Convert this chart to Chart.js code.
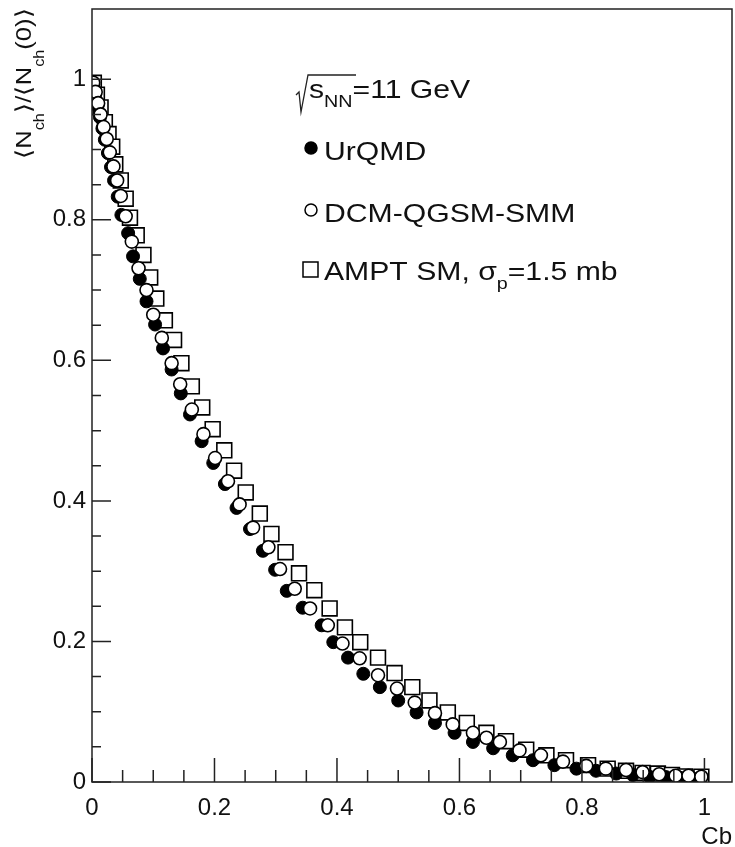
<!DOCTYPE html>
<html>
<head>
<meta charset="utf-8">
<script src="https://cdn.jsdelivr.net/npm/chart.js@4.4.1/dist/chart.umd.min.js"></script>
<style>
  body { margin: 0; background: #fff; }
  canvas { display: block; }
</style>
</head>
<body>
<canvas id="chart" width="735" height="847"></canvas>
<script>
// --- Data ---
const cbUrqmd = [0.002, 0.005, 0.009, 0.013, 0.017, 0.021, 0.026, 0.031, 0.036, 0.042, 0.048, 0.059, 0.067, 0.078, 0.089,
    0.103, 0.116, 0.130, 0.145, 0.160, 0.179, 0.198, 0.217, 0.236, 0.258, 0.279, 0.299, 0.318, 0.344, 0.375,
    0.394, 0.418, 0.443, 0.470, 0.500, 0.530, 0.560, 0.592, 0.622, 0.655, 0.687, 0.720, 0.755, 0.791, 0.823,
    0.856, 0.883, 0.910, 0.937, 0.960, 0.981];
const nUrqmd = [0.992, 0.978, 0.962, 0.946, 0.930, 0.914, 0.895, 0.875, 0.856, 0.833, 0.807, 0.781, 0.748, 0.716, 0.684,
    0.651, 0.617, 0.587, 0.553, 0.523, 0.485, 0.454, 0.424, 0.390, 0.360, 0.329, 0.302, 0.272, 0.248, 0.223,
    0.199, 0.177, 0.154, 0.135, 0.116, 0.099, 0.084, 0.070, 0.057, 0.048, 0.038, 0.031, 0.024, 0.019, 0.016,
    0.012, 0.010, 0.0075, 0.007, 0.006, 0.005];

const cbDcm = [0.002, 0.006, 0.010, 0.014, 0.019, 0.024, 0.029, 0.035, 0.041, 0.047, 0.055, 0.065, 0.076, 0.089, 0.100,
    0.114, 0.130, 0.144, 0.163, 0.182, 0.201, 0.222, 0.241, 0.263, 0.288, 0.307, 0.331, 0.356, 0.385, 0.409,
    0.437, 0.467, 0.498, 0.527, 0.560, 0.589, 0.622, 0.644, 0.666, 0.698, 0.733, 0.769, 0.807, 0.839, 0.872,
    0.899, 0.926, 0.953, 0.974, 0.995];
const nDcm = [0.995, 0.982, 0.966, 0.950, 0.932, 0.915, 0.896, 0.876, 0.856, 0.834, 0.805, 0.769, 0.731, 0.700, 0.665,
    0.632, 0.596, 0.566, 0.530, 0.495, 0.461, 0.428, 0.395, 0.362, 0.334, 0.303, 0.275, 0.247, 0.223, 0.197,
    0.176, 0.152, 0.133, 0.113, 0.098, 0.082, 0.070, 0.063, 0.057, 0.045, 0.038, 0.029, 0.023, 0.019, 0.017,
    0.014, 0.011, 0.009, 0.009, 0.0075];

const cbAmpt = [0.003, 0.008, 0.014, 0.021, 0.027, 0.033, 0.038, 0.047, 0.055, 0.062, 0.073, 0.084, 0.095, 0.105, 0.119,
    0.134, 0.146, 0.163, 0.180, 0.197, 0.216, 0.232, 0.251, 0.274, 0.293, 0.316, 0.338, 0.363, 0.388, 0.413,
    0.438, 0.467, 0.494, 0.523, 0.551, 0.581, 0.612, 0.644, 0.676, 0.709, 0.742, 0.774, 0.810, 0.842, 0.872,
    0.899, 0.924, 0.947, 0.968, 0.995];
const nAmpt = [0.995, 0.978, 0.960, 0.939, 0.922, 0.904, 0.879, 0.856, 0.830, 0.803, 0.778, 0.750, 0.718, 0.688, 0.657,
    0.629, 0.596, 0.563, 0.533, 0.502, 0.472, 0.443, 0.412, 0.382, 0.353, 0.327, 0.297, 0.273, 0.247, 0.220,
    0.199, 0.177, 0.155, 0.135, 0.116, 0.099, 0.084, 0.070, 0.058, 0.046, 0.038, 0.031, 0.024, 0.019, 0.016,
    0.013, 0.012, 0.010, 0.008, 0.0075];

const xTicks = [0, 0.2, 0.4, 0.6, 0.8, 1];
const yTicks = [0, 0.2, 0.4, 0.6, 0.8, 1];
const minorStep = 0.05;

const FONT = "'Liberation Sans', Arial, Helvetica, sans-serif";
const STRETCH = 1.16; // ROOT's Helvetica renders wider than Liberation Sans

const toPoints = (xs, ys) => xs.map((x, i) => ({ x, y: ys[i] }));

// draws a run of [text, isSub] pieces starting at (x, y), stretched horizontally
const drawRuns = (ctx, runs, x, y, mainSize, subSize, subDrop) => {
    ctx.save();
    ctx.translate(x, y);
    ctx.scale(STRETCH, 1);
    let cx = 0;
    runs.forEach(([t, sub]) => {
        ctx.font = `${sub ? subSize : mainSize}px ${FONT}`;
        ctx.fillText(t, cx, sub ? subDrop : 0);
        cx += ctx.measureText(t).width;
    });
    ctx.restore();
    return cx * STRETCH;
};

// --- ROOT-like frame with inside ticks, legend text and axis titles ---
const rootFrame = {
    id: 'rootFrame',
    afterDraw(chart) {
        const { ctx, chartArea: a, scales: { x, y } } = chart;
        ctx.save();
        ctx.strokeStyle = '#222';
        ctx.lineWidth = 1.5;
        ctx.strokeRect(a.left, a.top, a.right - a.left, a.bottom - a.top);

        ctx.beginPath();
        for (let v = 0; v <= 1.0001; v += minorStep) {
            const major = Math.abs(v / 0.2 - Math.round(v / 0.2)) < 1e-6;
            const px = x.getPixelForValue(v);
            ctx.moveTo(px, a.bottom);
            ctx.lineTo(px, a.bottom - (major ? 24 : 12));
            const py = y.getPixelForValue(v);
            ctx.moveTo(a.left, py);
            ctx.lineTo(a.left + (major ? 19 : 9), py);
        }
        ctx.stroke();

        // x title
        ctx.fillStyle = '#111';
        ctx.font = `24px ${FONT}`;
        ctx.textAlign = 'right';
        ctx.textBaseline = 'alphabetic';
        ctx.fillText('Cb', a.right, 844);
        ctx.textAlign = 'left';

        // y title, rotated, aligned to the top
        const yTitle = [['\u27E8N', false], ['ch', true], ['\u27E9/\u27E8N', false], ['ch', true], ['(0)\u27E9', false]];
        let len = 0;
        yTitle.forEach(([t, sub]) => { ctx.font = `${sub ? 14 : 22}px ${FONT}`; len += ctx.measureText(t).width; });
        ctx.save();
        ctx.translate(31, a.top - 1);
        ctx.rotate(-Math.PI / 2);
        drawRuns(ctx, yTitle, -len * STRETCH, 0, 22, 14, 13);
        ctx.restore();

        // legend
        ctx.lineWidth = 1.3;
        ctx.beginPath();
        ctx.moveTo(296, 95); ctx.lineTo(299, 92); ctx.lineTo(301, 112); ctx.lineTo(308, 75); ctx.lineTo(356, 75);
        ctx.stroke();
        drawRuns(ctx, [['s', false], ['NN', true], ['=11 GeV', false]], 309, 98, 26, 17, 9);

        const legendRows = [
            { ds: 0, runs: [['UrQMD', false]], y: 160 },
            { ds: 1, runs: [['DCM-QGSM-SMM', false]], y: 222 },
            { ds: 2, runs: [['AMPT SM, \u03C3', false], ['p', true], ['=1.5 mb', false]], y: 280 }
        ];
        legendRows.forEach(r => {
            const d = chart.data.datasets[r.ds];
            ctx.fillStyle = d.backgroundColor;
            ctx.strokeStyle = '#000';
            ctx.lineWidth = 1.5;
            ctx.beginPath();
            if (d.pointStyle === 'circle') ctx.arc(311, r.y - 12, 6, 0, Math.PI * 2);
            else ctx.rect(303, r.y - 18, 15, 15);
            ctx.fill();
            ctx.stroke();
            ctx.fillStyle = '#111';
            drawRuns(ctx, r.runs, 324, r.y, 26, 17, 9);
        });
        ctx.restore();
    }
};

const tickFont = { family: FONT, size: 24 };

new Chart(document.getElementById('chart'), {
    type: 'scatter',
    data: {
        datasets: [
            {
                label: 'UrQMD',
                data: toPoints(cbUrqmd, nUrqmd),
                pointStyle: 'circle', pointRadius: 6.5,
                backgroundColor: '#000', borderColor: '#000', borderWidth: 1,
                order: 2
            },
            {
                label: 'DCM-QGSM-SMM',
                data: toPoints(cbDcm, nDcm),
                pointStyle: 'circle', pointRadius: 6.5,
                backgroundColor: '#fff', borderColor: '#000', borderWidth: 1.6,
                order: 1
            },
            {
                label: 'AMPT SM',
                data: toPoints(cbAmpt, nAmpt),
                pointStyle: 'rect', pointRadius: 10.5,
                backgroundColor: '#fff', borderColor: '#000', borderWidth: 1.6,
                order: 3
            }
        ]
    },
    options: {
        responsive: false,
        animation: false,
        devicePixelRatio: 1,
        layout: { autoPadding: false, padding: { top: 9, right: 3, left: 0, bottom: 0 } },
        plugins: { legend: { display: false }, tooltip: { enabled: false } },
        scales: {
            x: {
                type: 'linear', min: 0, max: 1.045,
                grid: { display: false, drawTicks: false },
                border: { display: false },
                afterBuildTicks: s => { s.ticks = xTicks.map(v => ({ value: v })); },
                afterFit: s => { s.height = 65; s.paddingLeft = 0; s.paddingRight = 0; },
                ticks: { font: tickFont, color: '#111', padding: 12, maxRotation: 0, callback: v => String(+v.toFixed(1)) }
            },
            y: {
                type: 'linear', min: 0, max: 1.1,
                grid: { display: false, drawTicks: false },
                border: { display: false },
                afterBuildTicks: s => { s.ticks = yTicks.map(v => ({ value: v })); },
                afterFit: s => { s.width = 92; s.paddingTop = 0; s.paddingBottom = 0; },
                ticks: { font: tickFont, color: '#111', padding: 6, callback: v => String(+v.toFixed(1)) }
            }
        }
    },
    plugins: [rootFrame]
});
</script>
</body>
</html>
